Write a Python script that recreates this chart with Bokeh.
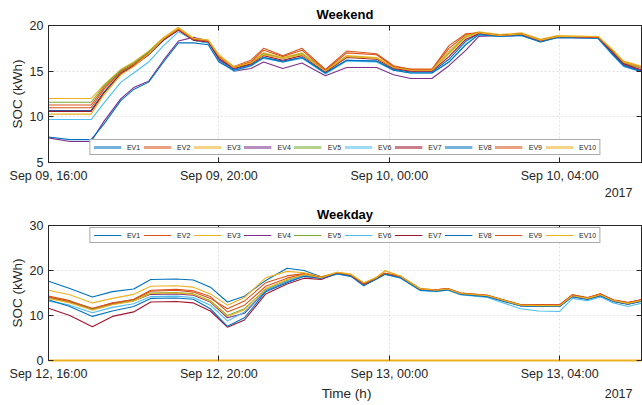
from datetime import datetime, timedelta
from bokeh.plotting import figure
from bokeh.layouts import column
from bokeh.models import (FixedTicker, Legend, LegendItem, Label, LinearAxis,
                          DatetimeAxis, Range1d, Title)
from bokeh.embed import file_html
from bokeh.resources import INLINE

names = ["EV1", "EV2", "EV3", "EV4", "EV5", "EV6", "EV7", "EV8", "EV9", "EV10"]
colors = ["#0072BD", "#D95319", "#EDB120", "#7E2F8E", "#77AC30",
          "#4DBEEE", "#A2142F", "#0072BD", "#D95319", "#EDB120"]

weekend_start = datetime(2017, 9, 9, 16, 0)
weekday_start = datetime(2017, 9, 12, 16, 0)
span_hours = 13.92
tick_hours = [0, 4, 8, 12]
weekend_tick_labels = ["Sep 09, 16:00", "Sep 09, 20:00", "Sep 10, 00:00", "Sep 10, 04:00"]
weekday_tick_labels = ["Sep 12, 16:00", "Sep 12, 20:00", "Sep 13, 00:00", "Sep 13, 04:00"]
year_label = "2017"
x_label = "Time (h)"
y_label = "SOC (kWh)"

# ---- Weekend (hours after start) ----
t_weekend = [0, 0.5, 1.0, 1.3, 1.7, 2.0, 2.35, 2.7, 3.05, 3.4, 3.75, 4.0, 4.35, 4.75,
             5.05, 5.5, 5.95, 6.5, 7.0, 7.7, 8.1, 8.5, 9.0, 9.4, 9.8, 10.1, 10.6,
             11.1, 11.55, 11.95, 12.9, 13.25, 13.5, 13.95]
we_ev1 = [10.7, 10.7, 10.7, 12.7, 14.8, 15.6, 16.8, 18.4, 19.5, 18.4, 18.1, 16.3, 15.2, 15.7,
          16.5, 16.1, 16.5, 14.8, 16.2, 16.1, 15.2, 14.9, 14.9, 16.3, 18.3, 19.1, 18.9,
          19.0, 18.3, 18.8, 18.7, 16.9, 15.7, 15.0]
we_ev2 = [11.3, 11.3, 11.3, 13.2, 15.0, 15.8, 17.0, 18.6, 19.6, 18.5, 18.3, 16.6, 15.5, 16.2,
          17.5, 16.7, 17.5, 15.2, 17.2, 16.9, 15.6, 15.2, 15.2, 17.5, 19.0, 19.2, 18.9,
          19.1, 18.4, 18.8, 18.7, 17.1, 15.9, 15.3]
we_ev3 = [12.0, 12.0, 12.0, 13.5, 15.2, 16.0, 17.2, 18.7, 19.8, 18.6, 18.4, 16.8, 15.5, 16.0,
          17.0, 16.5, 17.0, 15.1, 16.7, 16.5, 15.5, 15.2, 15.2, 17.2, 18.9, 19.3, 19.0,
          19.2, 18.5, 18.9, 18.8, 17.3, 16.1, 15.5]
we_ev4 = [7.7, 7.3, 7.3, 9.5, 12.0, 13.2, 13.9, 16.2, 18.3, 18.7, 18.3, 16.2, 15.0, 15.3,
          16.0, 15.3, 15.9, 14.5, 15.4, 15.4, 14.6, 14.2, 14.2, 15.6, 17.3, 18.8, 18.9,
          19.0, 18.3, 18.7, 18.6, 16.8, 15.6, 15.0]
we_ev5 = [11.6, 11.6, 11.6, 13.4, 15.1, 15.9, 17.1, 18.6, 19.6, 18.5, 18.3, 16.6, 15.4, 15.9,
          16.9, 16.4, 16.9, 15.0, 16.6, 16.4, 15.4, 15.1, 15.1, 17.0, 18.8, 19.2, 18.9,
          19.1, 18.4, 18.8, 18.7, 17.1, 15.9, 15.3]
we_ev6 = [9.7, 9.7, 9.7, 11.5, 13.8, 14.8, 16.0, 17.8, 19.3, 18.4, 18.1, 16.1, 15.0, 15.6,
          16.4, 16.0, 16.4, 14.7, 16.1, 16.0, 15.1, 14.8, 14.8, 16.0, 18.0, 19.0, 18.8,
          18.9, 18.2, 18.7, 18.6, 16.7, 15.5, 14.9]
we_ev7 = [10.6, 10.6, 10.6, 12.6, 14.7, 15.6, 16.8, 18.4, 19.5, 18.4, 18.2, 16.4, 15.3, 15.8,
          16.7, 16.2, 16.7, 14.9, 16.5, 16.3, 15.3, 15.0, 15.0, 16.6, 18.5, 19.1, 18.9,
          19.0, 18.3, 18.8, 18.7, 17.0, 15.8, 15.1]
we_ev8 = [7.8, 7.5, 7.5, 9.2, 11.8, 13.0, 13.8, 16.0, 18.1, 18.1, 17.9, 16.0, 15.1, 15.6,
          16.5, 16.0, 16.5, 14.8, 16.2, 16.1, 15.1, 14.8, 14.8, 16.0, 17.9, 19.0, 18.8,
          18.9, 18.2, 18.7, 18.6, 16.8, 15.6, 14.9]
we_ev9 = [11.0, 11.0, 11.0, 13.0, 14.9, 15.7, 16.9, 18.5, 19.6, 18.5, 18.3, 16.6, 15.4, 16.0,
          17.3, 16.6, 17.3, 15.1, 17.0, 16.8, 15.5, 15.2, 15.2, 17.8, 19.1, 19.2, 18.9,
          19.1, 18.4, 18.8, 18.7, 17.2, 16.0, 15.4]
we_ev10 = [10.3, 10.3, 10.3, 12.4, 14.6, 15.5, 16.9, 18.6, 19.7, 18.6, 18.4, 16.7, 15.4, 15.9,
           16.8, 16.4, 16.8, 15.0, 16.6, 16.4, 15.4, 15.1, 15.1, 16.9, 18.7, 19.2, 18.9,
           19.1, 18.4, 18.8, 18.8, 17.3, 16.0, 15.4]

# ---- Weekday ----
t_weekday = [0, 0.5, 1.03, 1.5, 2.0, 2.4, 3.0, 3.4, 3.8, 4.2, 4.6, 5.1, 5.6, 6.0, 6.4,
             6.78, 7.1, 7.4, 7.7, 7.9, 8.26, 8.73, 9.1, 9.37, 9.67, 10.3, 11.08, 11.5,
             12.0, 12.3, 12.65, 12.96, 13.26, 13.6, 13.95]
wd_ev1 = [17.6, 16.0, 14.1, 15.3, 15.9, 18.0, 18.1, 17.9, 16.3, 13.0, 14.3, 17.8, 20.5, 20.0, 18.6,
          19.3, 18.8, 16.7, 18.2, 19.2, 18.5, 15.7, 15.5, 15.8, 14.8, 14.3, 12.2, 12.1,
          12.1, 14.3, 13.7, 14.5, 13.2, 12.6, 13.3]
wd_ev2 = [14.3, 13.3, 11.5, 12.8, 13.5, 15.4, 15.6, 15.2, 13.8, 11.5, 13.2, 17.3, 18.8, 19.3, 18.5,
          19.5, 19.0, 17.0, 18.4, 19.4, 18.7, 15.9, 15.7, 16.0, 15.0, 14.5, 12.4, 12.3,
          12.3, 14.6, 13.9, 14.8, 13.4, 12.9, 13.6]
wd_ev3 = [15.6, 14.6, 12.8, 13.8, 14.7, 16.5, 16.6, 16.3, 14.8, 12.3, 14.0, 18.4, 19.8, 19.5, 18.6,
          19.6, 19.2, 17.2, 18.5, 19.9, 18.8, 16.0, 15.7, 16.0, 15.0, 14.5, 12.4, 12.3,
          12.3, 14.5, 13.9, 14.7, 13.4, 12.8, 13.5]
wd_ev4 = [14.0, 13.0, 11.3, 12.5, 13.3, 14.7, 14.8, 14.5, 13.0, 9.5, 10.5, 15.5, 17.5, 18.8, 18.3,
          19.3, 18.9, 16.9, 18.3, 19.2, 18.5, 15.7, 15.5, 15.8, 14.8, 14.3, 12.2, 12.1,
          12.1, 14.2, 13.6, 14.4, 13.1, 12.5, 13.2]
wd_ev5 = [14.0, 13.0, 11.4, 12.6, 13.4, 15.0, 15.1, 14.8, 13.3, 10.0, 11.5, 15.8, 17.8, 19.0, 18.4,
          19.4, 19.0, 17.1, 18.3, 19.4, 18.6, 15.9, 15.6, 15.9, 14.9, 14.4, 12.3, 12.2,
          12.2, 14.4, 13.8, 14.6, 13.3, 12.7, 13.4]
wd_ev6 = [13.2, 12.3, 10.6, 11.8, 12.6, 14.2, 14.3, 14.0, 12.3, 8.8, 10.8, 15.6, 17.6, 18.9, 18.2,
          19.2, 18.7, 16.8, 18.1, 19.1, 18.3, 15.5, 15.3, 15.6, 14.6, 14.0, 11.5, 11.0,
          10.9, 13.8, 13.3, 14.1, 12.8, 12.0, 12.8]
wd_ev7 = [11.6, 10.0, 7.5, 9.8, 10.8, 13.0, 13.1, 12.8, 11.0, 7.4, 9.0, 14.8, 17.0, 18.3, 18.0,
          19.4, 18.9, 16.9, 18.3, 19.3, 18.6, 15.8, 15.6, 15.9, 14.9, 14.4, 12.3, 12.3,
          12.3, 14.5, 13.9, 14.7, 13.4, 12.8, 13.5]
wd_ev8 = [13.5, 12.0, 9.8, 11.0, 12.0, 13.8, 13.9, 13.6, 11.5, 7.6, 9.5, 15.3, 17.3, 18.7, 18.3,
          19.3, 18.7, 16.6, 18.1, 19.2, 18.4, 15.6, 15.4, 15.7, 14.7, 14.2, 12.1, 12.0,
          12.0, 14.2, 13.6, 14.4, 13.1, 12.5, 13.2]
wd_ev9 = [14.1, 13.1, 11.6, 12.7, 13.6, 15.6, 15.8, 15.5, 14.2, 10.8, 12.3, 16.5, 18.3, 19.2, 18.5,
          19.5, 19.0, 17.0, 18.4, 19.4, 18.7, 15.9, 15.7, 16.0, 15.0, 14.5, 12.4, 12.4,
          12.4, 14.6, 14.0, 14.8, 13.5, 12.9, 13.6]
wd_ev10 = [13.8, 12.8, 11.2, 12.4, 13.2, 14.9, 15.0, 14.7, 13.1, 9.8, 11.3, 16.0, 18.0, 19.1, 18.4,
           19.6, 19.1, 17.3, 18.4, 20.0, 18.7, 15.9, 15.6, 15.9, 14.9, 14.4, 12.3, 12.2,
           12.2, 14.4, 13.8, 14.6, 13.3, 12.7, 13.4]

weekend_series = [we_ev1, we_ev2, we_ev3, we_ev4, we_ev5, we_ev6, we_ev7, we_ev8, we_ev9, we_ev10]
weekday_series = [wd_ev1, wd_ev2, wd_ev3, wd_ev4, wd_ev5, wd_ev6, wd_ev7, wd_ev8, wd_ev9, wd_ev10]

FONT = "Liberation Sans"
AX = "#262626"
EPOCH = datetime(1970, 1, 1)


def ms(dt):
    return (dt - EPOCH).total_seconds() * 1000.0


def style_axis(ax):
    ax.major_tick_in = 5
    ax.major_tick_out = 0
    ax.minor_tick_line_color = None
    ax.axis_line_color = AX
    ax.major_tick_line_color = AX
    ax.major_label_text_font = FONT
    ax.major_label_text_font_size = "12.5px"
    ax.major_label_text_color = AX
    ax.axis_label_text_font = FONT
    ax.axis_label_text_font_size = "13.5px"
    ax.axis_label_text_font_style = "normal"
    ax.axis_label_text_color = AX


def make_panel(start, t, series, title, y0, y1, yticks, tick_labels, height,
               bottom_border, legend_top, faded_legend):
    xs = [start + timedelta(hours=h) for h in t]
    p = figure(width=642, height=height, x_axis_type="datetime",
               output_backend="svg", toolbar_location=None,
               x_range=Range1d(start, start + timedelta(hours=span_hours)),
               y_range=Range1d(y0, y1))
    p.min_border_left = 48
    p.min_border_right = 1
    p.min_border_top = 25
    p.min_border_bottom = bottom_border
    p.background_fill_color = "white"
    p.border_fill_color = "white"
    p.outline_line_color = AX
    p.outline_line_width = 1

    p.title.text = title
    p.title.align = "center"
    p.title.text_font = FONT
    p.title.text_font_size = "13px"
    p.title.text_font_style = "bold"
    p.title.text_color = "black"
    p.title.standoff = 7

    xb = p.below[0]
    yl = p.left[0]
    style_axis(xb)
    style_axis(yl)
    tick_ms = [ms(start + timedelta(hours=h)) for h in tick_hours]
    xt = FixedTicker(ticks=tick_ms)
    xb.ticker = xt
    xb.major_label_overrides = {v: s for v, s in zip(tick_ms, tick_labels)}
    yl.ticker = FixedTicker(ticks=yticks)
    xb.major_label_standoff = 6
    yl.major_label_standoff = 5
    yl.axis_label = y_label
    yl.axis_label_standoff = 2

    top_ax = DatetimeAxis(ticker=xt, major_tick_in=5, major_tick_out=0,
                          major_label_text_font_size="0px", axis_line_color=AX,
                          major_tick_line_color=AX, minor_tick_line_color=None,
                          major_label_standoff=0)
    top_ax.major_label_overrides = {v: "" for v in tick_ms}
    right_ax = LinearAxis(ticker=FixedTicker(ticks=yticks), major_tick_in=5, major_tick_out=0,
                          major_label_text_font_size="0px", axis_line_color=AX,
                          major_tick_line_color=AX, minor_tick_line_color=None,
                          major_label_standoff=0)
    right_ax.major_label_overrides = {v: "" for v in yticks}
    p.add_layout(top_ax, "above")
    p.add_layout(right_ax, "right")

    for g in (p.xgrid, p.ygrid):
        g.grid_line_color = "#cfcfcf"
        g.grid_line_dash = "2 2"
        g.grid_line_alpha = 0.6

    renderers = []
    for vals, c in zip(series, colors):
        r = p.line(xs, vals, line_color=c, line_width=1.1)
        renderers.append(r)

    items = []
    for name, c, r in zip(names, colors, renderers):
        if faded_legend:
            d = p.line([xs[0]], [float("nan")], line_color=c, line_width=3, line_alpha=0.55)
            items.append(LegendItem(label=name, renderers=[d]))
        else:
            items.append(LegendItem(label=name, renderers=[r]))
    leg = Legend(items=items, orientation="horizontal",
                 location="top_center" if legend_top else "bottom_center",
                 glyph_width=28, glyph_height=8, label_standoff=6, spacing=3,
                 padding=3, label_height=8, label_width=12, label_text_font=FONT,
                 label_text_font_size="7px", label_text_color=AX,
                 border_line_color="#555555", border_line_width=1.5,
                 background_fill_color="white", background_fill_alpha=1,
                 margin=2 if legend_top else 7)
    p.add_layout(leg)
    return p


p1 = make_panel(weekend_start, t_weekend, weekend_series, "Weekend", 5, 20, [5, 10, 15, 20],
                weekend_tick_labels, 200, 38, False, True)
p1.add_layout(Title(text=year_label, align="right", offset=9, text_font=FONT,
                    text_font_size="12.5px", text_font_style="normal", text_color=AX,
                    standoff=0), "below")

p2 = make_panel(weekday_start, t_weekday, weekday_series, "Weekday", 0, 30, [0, 10, 20, 30],
                weekday_tick_labels, 183, 21, True, False)
p2.below[0].axis_line_color = "#EDB120"
p2.below[0].axis_line_width = 2

# strip under the weekday panel holding the x-axis title and the year
# (its frame is aligned with the panels' frames, which start 48 px from the left)
strip = figure(width=642, height=22, output_backend="svg", toolbar_location=None,
               x_axis_type=None, y_axis_type=None, min_border=0)
strip.outline_line_color = None
strip.grid.visible = False
strip.background_fill_color = "white"
strip.border_fill_color = "white"
strip.add_layout(Label(x=298, y=12, x_units="screen", y_units="screen", text=x_label,
                       text_align="center", text_baseline="middle", text_font=FONT,
                       text_font_size="13.5px", text_color=AX))
strip.add_layout(Label(x=584, y=12, x_units="screen", y_units="screen", text=year_label,
                       text_align="right", text_baseline="middle", text_font=FONT,
                       text_font_size="12.5px", text_color=AX))

layout = column(p1, p2, strip, spacing=0)
open("out.html", "w").write(file_html(layout, INLINE))
